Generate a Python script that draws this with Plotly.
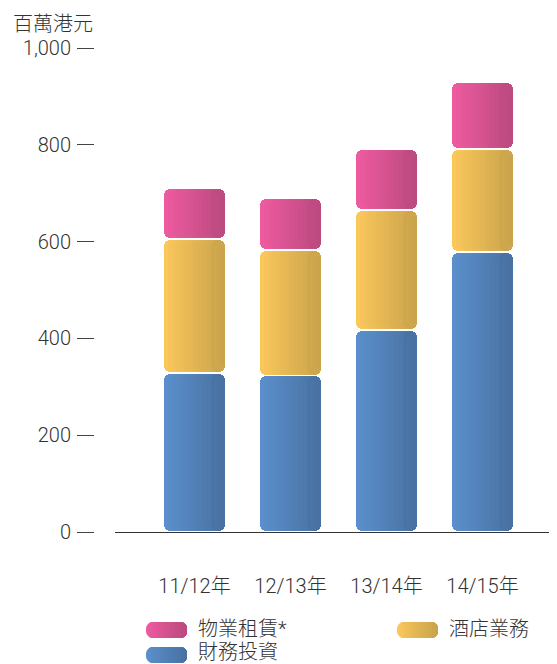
import math
import plotly.graph_objects as go

# ---------------- data ----------------
categories = ["11/12年", "12/13年", "13/14年", "14/15年"]
finance = [328, 323, 417, 579]        # 財務投資
hotel = [277, 260, 248, 212]          # 酒店業務
property_rent = [105, 106, 126, 139]  # 物業租賃*
y_ticks = [0, 200, 400, 600, 800, 1000]
unit_label = "百萬港元"
name_finance = "財務投資"
name_hotel = "酒店業務"
name_property = "物業租賃*"

# ---------------- style ----------------
OFF = 8                      # page body margin
W, H = 557 - OFF, 664 - OFF
PLOT_LEFT, PLOT_TOP, PLOT_BOTTOM = 60, 48, 532   # reference pixels
ML = PLOT_LEFT - OFF
MT = PLOT_TOP - OFF
MB = H - (PLOT_BOTTOM - OFF)
MR = 0
PLOT_W = W - ML - MR
PLOT_H = H - MT - MB
Y_MAX = 1000
X_RANGE = [-0.828, 3.776]
AXIS_LEFT_PX = 115
YAXIS_PX = 94
FONT = "Roboto, 'Noto Sans CJK TC', 'Noto Sans CJK SC', sans-serif"
TEXT_COLOR = "#333333"

COLORS = {
    name_finance: ("#5B90CC", "#4870A0"),
    name_hotel: ("#FBC85B", "#C8A24B"),
    name_property: ("#EF5BA0", "#B9497E"),
}

BAR_W = 0.635          # in category units
N_STRIPS = 16
RADIUS = 6             # px
GAP_PX = 1.6


def hex2rgb(h):
    h = h.lstrip("#")
    return tuple(int(h[i:i + 2], 16) for i in (0, 2, 4))


def mix(c0, c1, t):
    a, b = hex2rgb(c0), hex2rgb(c1)
    return "rgb(%d,%d,%d)" % tuple(round(a[i] + (b[i] - a[i]) * t) for i in range(3))


def px_x(px):  # reference pixel -> paper x
    return (px - PLOT_LEFT) / PLOT_W


def px_y(py):  # reference pixel -> paper y
    return (PLOT_BOTTOM - py) / PLOT_H


px_per_cat = (PLOT_W - (AXIS_LEFT_PX - PLOT_LEFT)) / (X_RANGE[1] - X_RANGE[0])
px_per_unit = PLOT_H / Y_MAX
gap_units = GAP_PX / px_per_unit
inset_units = RADIUS / px_per_unit

fig = go.Figure()


def add_strip(x, y, base, width, color, radius, name):
    fig.add_trace(go.Bar(
        x=x, y=y, base=base, width=width, offset=BAR_W / 2 - width,
        marker=dict(color=color, line=dict(width=0), cornerradius=radius),
        name=name, showlegend=False, hoverinfo="skip",
    ))


series = [(name_finance, finance), (name_hotel, hotel), (name_property, property_rent)]
cum = [0] * len(categories)
dw = BAR_W / N_STRIPS
min_w = (2 * RADIUS + 1) / px_per_cat
for name, vals in series:
    bottoms = cum[:]
    c0, c1 = COLORS[name]
    base_full = [b + gap_units / 2 for b in bottoms]
    size_full = [v - gap_units for v in vals]
    base_in = [b + inset_units for b in base_full]
    size_in = [s - 2 * inset_units for s in size_full]
    narrow = []
    for k in range(N_STRIPS):
        width = BAR_W - k * dw
        col = mix(c0, c1, (k + 0.5) / N_STRIPS)
        if width >= min_w:
            # full-height strip, both ends rounded (bar with explicit base)
            add_strip(categories, size_full, base_full, width, col, RADIUS, name)
        else:
            narrow.append((width, col))
    # right edge piece keeping the full corner radius
    add_strip(categories, size_full, base_full, min_w,
              mix(c0, c1, 1 - (min_w / 2) / BAR_W), RADIUS, name)
    # finer gradient steps near the right edge, kept clear of the corners
    for width, col in narrow:
        add_strip(categories, size_in, base_in, width, col, 0, name)
    cum = [b + v for b, v in zip(bottoms, vals)]

# ---------------- legend (drawn) ----------------
SW_W, SW_H, SW_R, SW_N = 41, 16, 7, 14


def rr_points(w, h, r, n=10):
    pts = []
    centers = [(w - r, h / 2 - r, 0), (r, h / 2 - r, 90), (r, -h / 2 + r, 180), (w - r, -h / 2 + r, 270)]
    for cx, cy, a0 in centers:
        for i in range(n + 1):
            a = math.radians(a0 + 90 * i / n)
            pts.append((cx + r * math.cos(a), cy + r * math.sin(a)))
    return pts


def clip_left(pts, x0):
    out = []
    m = len(pts)
    for i in range(m):
        p, q = pts[i], pts[(i + 1) % m]
        pin, qin = p[0] >= x0, q[0] >= x0
        if pin:
            out.append(p)
        if pin != qin:
            t = (x0 - p[0]) / (q[0] - p[0])
            out.append((x0, p[1] + t * (q[1] - p[1])))
    return out


shapes = []


def swatch(left_px, cy_px, name):
    c0, c1 = COLORS[name]
    outline = rr_points(SW_W, SW_H, SW_R)
    sdw = SW_W / SW_N
    for k in range(SW_N):
        pts = clip_left(outline, k * sdw)
        path = "M" + " L".join(f"{x:.2f},{y:.2f}" for x, y in pts) + " Z"
        shapes.append(dict(
            type="path", xref="paper", yref="paper",
            xsizemode="pixel", ysizemode="pixel",
            xanchor=px_x(left_px), yanchor=px_y(cy_px),
            path=path, fillcolor=mix(c0, c1, (k + 0.5) / SW_N),
            line=dict(width=0), layer="above",
        ))


legend_items = [(146, 630, 629, 196, name_property), (397, 630, 629, 447, name_hotel),
                (146, 655, 652, 196, name_finance)]
annotations = []
for lx, ly, ty, tx, nm in legend_items:
    swatch(lx, ly, nm)
    annotations.append(dict(
        text=nm, xref="paper", yref="paper", x=px_x(tx), y=px_y(ty),
        xanchor="left", yanchor="middle", showarrow=False,
        font=dict(size=20, color=TEXT_COLOR, family=FONT, weight=300),
    ))

annotations.append(dict(
    text=unit_label, xref="paper", yref="paper", x=px_x(11), y=px_y(24),
    xanchor="left", yanchor="middle", showarrow=False,
    font=dict(size=20, color=TEXT_COLOR, family=FONT, weight=300),
))

fig.update_layout(
    width=W, height=H,
    margin=dict(l=ML, r=MR, t=MT, b=MB, autoexpand=False),
    barmode="overlay",
    bargap=0,
    plot_bgcolor="white", paper_bgcolor="white",
    font=dict(family=FONT, size=20, color=TEXT_COLOR, weight=300),
    shapes=shapes, annotations=annotations,
    xaxis=dict(
        type="category", range=X_RANGE,
        domain=[(AXIS_LEFT_PX - PLOT_LEFT) / PLOT_W, 1],
        showline=True, linecolor="#333333", linewidth=1.3,
        showgrid=False, zeroline=False, ticks="", ticklabelstandoff=36,
        tickfont=dict(size=20, color=TEXT_COLOR, family=FONT, weight=300),
        fixedrange=True,
    ),
    yaxis=dict(
        range=[0, Y_MAX], anchor="free", position=px_x(YAXIS_PX),
        tickvals=y_ticks, tickformat=",",
        showline=False, showgrid=False, zeroline=False,
        ticks="outside", ticklen=17, tickwidth=1.3, tickcolor="#444444",
        ticklabelstandoff=2,
        tickfont=dict(size=20, color=TEXT_COLOR, family=FONT, weight=300),
        fixedrange=True,
    ),
    showlegend=False,
)

fig.write_html("out.html")
